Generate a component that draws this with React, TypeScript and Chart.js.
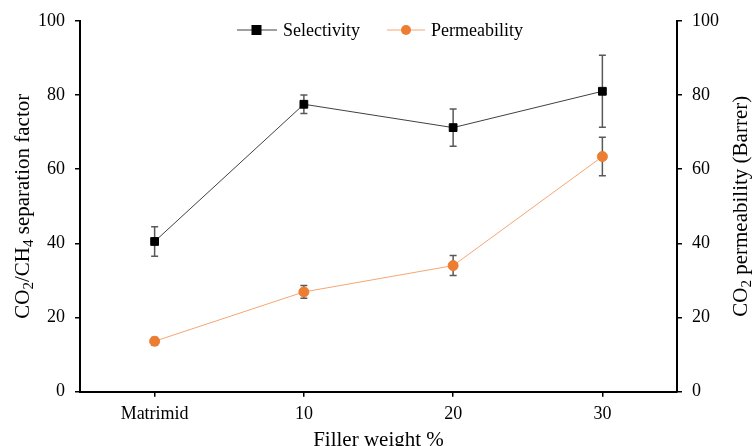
import React, { useEffect, useRef } from "react";
import { Chart, registerables } from "chart.js";

Chart.register(...registerables);

const categories = ["Matrimid", "10", "20", "30"];
const selectivity = [40.5, 77.5, 71.2, 81];
const selectivityErr = [4, 2.5, 5, 9.7];
const permeability = [13.6, 26.9, 34, 63.4];
const permeabilityErr = [1, 1.7, 2.7, 5.2];
const yTicks = [0, 20, 40, 60, 80, 100];

const FONT = "'Liberation Serif', 'Times New Roman', serif";

type Part = { t: string; sub?: boolean };

function drawRich(ctx: CanvasRenderingContext2D, parts: Part[], size: number) {
  const subSize = Math.round(size * 0.7);
  let total = 0;
  const widths = parts.map((p) => {
    ctx.font = `${p.sub ? subSize : size}px ${FONT}`;
    const w = ctx.measureText(p.t).width;
    total += w;
    return w;
  });
  let x = -total / 2;
  ctx.textBaseline = "middle";
  ctx.textAlign = "left";
  parts.forEach((p, i) => {
    ctx.font = `${p.sub ? subSize : size}px ${FONT}`;
    ctx.fillText(p.t, x, p.sub ? size * 0.3 : 0);
    x += widths[i];
  });
}

const overlay = {
  id: "overlay",
  beforeDatasetsDraw(chart: any) {
    const ctx = chart.ctx as CanvasRenderingContext2D;
    const xs = chart.scales.x;
    const sets = [
      { vals: selectivity, errs: selectivityErr, axis: chart.scales.y },
      { vals: permeability, errs: permeabilityErr, axis: chart.scales.y1 },
    ];
    ctx.save();
    ctx.strokeStyle = "#595959";
    ctx.lineWidth = 1.5;
    sets.forEach((s) => {
      s.vals.forEach((v, i) => {
        const x = xs.getPixelForValue(i);
        const yt = s.axis.getPixelForValue(v + s.errs[i]);
        const yb = s.axis.getPixelForValue(v - s.errs[i]);
        ctx.beginPath();
        ctx.moveTo(x, yt);
        ctx.lineTo(x, yb);
        ctx.moveTo(x - 3.5, yt);
        ctx.lineTo(x + 3.5, yt);
        ctx.moveTo(x - 3.5, yb);
        ctx.lineTo(x + 3.5, yb);
        ctx.stroke();
      });
    });
    ctx.restore();
  },
  afterDraw(chart: any) {
    const ctx = chart.ctx as CanvasRenderingContext2D;
    const area = chart.chartArea;
    const midY = (area.top + area.bottom) / 2;
    ctx.save();
    ctx.fillStyle = "#000";
    // left title
    ctx.save();
    ctx.translate(23, midY);
    ctx.rotate(-Math.PI / 2);
    drawRich(ctx, [
      { t: "CO" }, { t: "2", sub: true }, { t: "/CH" }, { t: "4", sub: true }, { t: " separation factor" },
    ], 21);
    ctx.restore();
    // right title
    ctx.save();
    ctx.translate(741, midY);
    ctx.rotate(-Math.PI / 2);
    drawRich(ctx, [
      { t: "CO" }, { t: "2", sub: true }, { t: " permeability (Barrer)" },
    ], 21);
    ctx.restore();
    // x title
    ctx.font = `21px ${FONT}`;
    ctx.textAlign = "center";
    ctx.textBaseline = "alphabetic";
    ctx.fillText("Filler weight %", (area.left + area.right) / 2, 446);

    // legend
    const ly = 30;
    ctx.lineWidth = 1;
    ctx.strokeStyle = "#404040";
    ctx.beginPath();
    ctx.moveTo(237, ly);
    ctx.lineTo(277, ly);
    ctx.stroke();
    ctx.fillStyle = "#000";
    ctx.fillRect(251.5, ly - 5, 10, 10);
    ctx.font = `18px ${FONT}`;
    ctx.textAlign = "left";
    ctx.textBaseline = "middle";
    ctx.fillText("Selectivity", 283, ly + 1);

    ctx.strokeStyle = "#F4A672";
    ctx.beginPath();
    ctx.moveTo(387, ly);
    ctx.lineTo(425, ly);
    ctx.stroke();
    ctx.fillStyle = "#ED7D31";
    ctx.beginPath();
    ctx.arc(406, ly, 5, 0, Math.PI * 2);
    ctx.fill();
    ctx.fillStyle = "#000";
    ctx.fillText("Permeability", 431, ly + 1);
    ctx.restore();
  },
};

export default function App() {
  const ref = useRef<HTMLCanvasElement>(null);
  useEffect(() => {
    const tickFont = { family: FONT, size: 18 };
    const chart = new Chart(ref.current!, {
      type: "line",
      data: {
        labels: categories,
        datasets: [
          {
            label: "Selectivity",
            data: selectivity,
            yAxisID: "y",
            borderColor: "#404040",
            borderWidth: 1,
            pointStyle: "rect",
            pointRadius: 5.5,
            pointBackgroundColor: "#000",
            pointBorderColor: "#000",
            tension: 0,
          },
          {
            label: "Permeability",
            data: permeability,
            yAxisID: "y1",
            borderColor: "#F4A672",
            borderWidth: 1,
            pointStyle: "circle",
            pointRadius: 5,
            pointBackgroundColor: "#ED7D31",
            pointBorderColor: "#ED7D31",
            tension: 0,
          },
        ],
      },
      options: {
        animation: false,
        responsive: true,
        maintainAspectRatio: false,
        layout: { padding: { top: 19, left: 0, right: 0, bottom: 0 } },
        plugins: { legend: { display: false }, tooltip: { enabled: false } },
        scales: {
          x: {
            type: "category",
            offset: true,
            grid: { drawOnChartArea: false, offset: false, tickLength: 5, color: "#000", lineWidth: 1.5 },
            border: { color: "#000", width: 2 },
            ticks: { color: "#000", font: tickFont, padding: 7 },
            afterFit: (s: any) => { s.height = 54.3; },
          },
          y: {
            position: "left",
            min: 0,
            max: 100,
            afterBuildTicks: (s: any) => { s.ticks = yTicks.map((v) => ({ value: v })); },
            grid: { drawOnChartArea: false, tickLength: 5, color: "#000", lineWidth: 1.5 },
            border: { color: "#000", width: 2 },
            ticks: { color: "#000", font: tickFont, padding: 10 },
            afterFit: (s: any) => { s.width = 80; },
          },
          y1: {
            position: "right",
            min: 0,
            max: 100,
            afterBuildTicks: (s: any) => { s.ticks = yTicks.map((v) => ({ value: v })); },
            grid: { drawOnChartArea: false, tickLength: 5, color: "#000", lineWidth: 1.5 },
            border: { color: "#000", width: 2 },
            ticks: { color: "#000", font: tickFont, padding: 10 },
            afterFit: (s: any) => { s.width = 75; },
          },
        },
      },
      plugins: [overlay],
    } as any);
    return () => chart.destroy();
  }, []);
  return (
    <div style={{ position: "absolute", left: 0, top: 0, width: 752, height: 446, background: "#fff" }}>
      <canvas ref={ref} />
    </div>
  );
}
